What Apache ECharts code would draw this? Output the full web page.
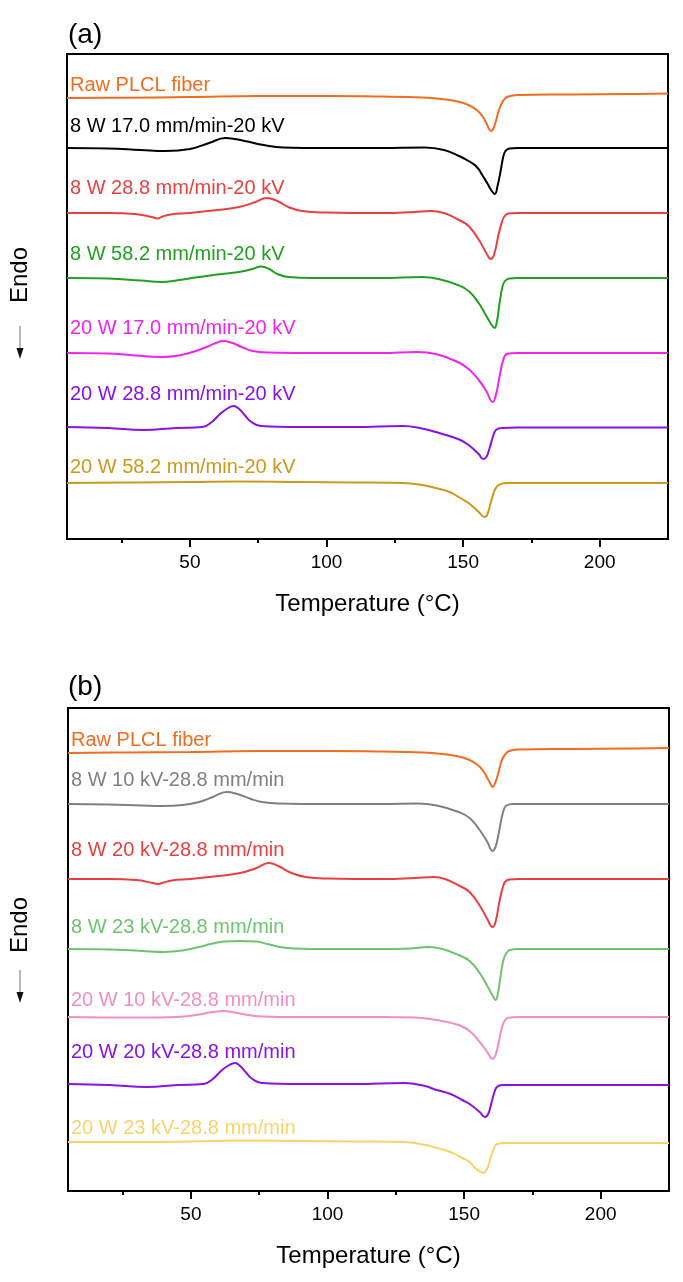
<!DOCTYPE html>
<html>
<head>
<meta charset="utf-8">
<script src="https://cdn.jsdelivr.net/npm/echarts@6.0.0/dist/echarts.min.js"></script>
<style>
  html, body { margin: 0; padding: 0; background: #fff; }
  #chart { width: 683px; height: 1282px; }
</style>
</head>
<body>
<div id="chart"></div>
<script>
// DSC traces, heat flow relative to each trace's own baseline (a.u., endo down)
const majorTicks = [50, 100, 150, 200]
const minorTicks = [25, 75, 125, 175]

const labelsA = ['Raw PLCL fiber', '8 W 17.0 mm/min-20 kV', '8 W 28.8 mm/min-20 kV', '8 W 58.2 mm/min-20 kV',
  '20 W 17.0 mm/min-20 kV', '20 W 28.8 mm/min-20 kV', '20 W 58.2 mm/min-20 kV']
const labelsB = ['Raw PLCL fiber', '8 W 10 kV-28.8 mm/min', '8 W 20 kV-28.8 mm/min', '8 W 23 kV-28.8 mm/min',
  '20 W 10 kV-28.8 mm/min', '20 W 20 kV-28.8 mm/min', '20 W 23 kV-28.8 mm/min']

// vertical offsets used to stack the traces
const offsetsA = [441, 391, 326, 261, 186, 112, 56]
const offsetsB = [438, 387, 312, 242, 174, 107, 49]

const rawA = [[5,0],[25,0.3],[50,1],[75,2],[100,2],[120,1.5],[135,0.5],[142,-1],[148,-3.5],[152,-7],[155,-12],[157,-18],[158.5,-25],[159.5,-31],[160.2,-33],[161,-31],[162,-23],[163,-13],[164,-6],[165,-1.5],[166.5,1.5],[170,3],[190,3.5],[210,4],[225,4.5]]
const w8s17 = [[5,0],[20,-0.5],[32,-2],[41,-3],[50,-1],[57,5],[63,10],[70,7],[77,3],[84,0.5],[100,0],[120,0],[136,0.5],[143,-2],[148.5,-8],[152,-13],[155,-19],[157,-27],[159,-36],[160.5,-43],[161.6,-46],[162.6,-38],[163.8,-22],[164.6,-10],[165.5,-3],[167,-0.5],[170,0],[225,0]]
const w8s28 = [[5,0],[20,0],[30,-1],[36,-4],[38,-5.5],[40,-3.5],[43,-1.5],[50,0],[60,3],[68,6],[74,11],[78,15],[82,12],[86,6],[91,2],[100,0.5],[120,0],[132,1],[138,2],[143,0],[148.5,-7],[152,-13],[155.8,-27],[158.5,-40],[160.1,-46],[161.3,-42],[163.1,-20],[164.2,-9],[165,-4],[166.5,-0.5],[170,0],[225,0]]
const w8s58 = [[5,0],[20,-0.5],[32,-2.5],[39.5,-4],[46,-2],[52,0.5],[60,3.5],[68,6],[73,9],[76,11.5],[79,9],[82,4],[86,1],[95,0],[120,0],[135,1],[141,-1],[148,-7],[152,-13],[155.7,-25],[158.5,-38],[160.5,-47],[161.5,-50],[162.4,-43],[163.3,-26],[164.3,-10],[165.3,-3],[167,-0.5],[170,0],[225,0]]
const w20s17 = [[5,0],[20,-0.5],[30,-2.5],[39.5,-4],[46,-2.5],[51,1],[56,6],[60,10.5],[62,12],[65,10.5],[69,6],[73,2],[78,0.5],[100,0],[120,0],[133,1],[140,-1],[148,-9],[152,-16],[155.7,-27],[158.5,-38],[160.8,-49],[162,-42],[163.6,-20],[164.6,-8],[166,-1],[170,0],[225,0]]
const w20s28 = [[5,0],[20,-1],[33,-3],[45,-1],[54.5,0],[58,5],[61,13],[64,19],[66,21],[68,18],[70,12],[72.5,5],[76,1],[90,0],[110,0],[128,1],[135,-1.5],[140,-5],[145,-9],[149,-13],[152,-18],[155.7,-27],[157.3,-32],[158.5,-30],[159.7,-21],[161,-9],[162,-3],[164,-1],[170,-0.5],[225,-0.5]]
const w20s58 = [[5,0],[30,0.5],[50,1],[68,1.5],[90,1],[110,0.5],[128,0],[135,-2],[140,-5],[145,-9],[149,-15],[152,-20],[155.7,-29],[157.8,-34],[158.8,-32],[160.4,-17],[161.6,-7],[163,-2],[166,0],[225,0]]

const rawB = [[5,0],[25,0.5],[50,1],[75,2],[100,2],[120,1.5],[135,0.5],[142,-1],[148,-3.5],[152,-7],[155,-12],[157,-18],[158.5,-25],[159.7,-31],[160.4,-34],[161.2,-31],[162.2,-23],[163.2,-13],[164,-6],[165,-1.5],[166.5,2],[170,3.5],[190,4],[210,4.5],[225,5]]
const w8kv10 = [[5,0],[20,-0.5],[32,-1.5],[39.5,-2],[47,-1],[53,2],[58,7],[63,12],[67,10],[72,5],[76,2],[82,0.5],[100,0],[120,0],[133,0.5],[140,-1.5],[148,-8],[152,-14],[155.7,-26],[158.5,-38],[160.4,-47],[161.5,-43],[162.6,-30],[163.6,-16],[164.5,-6],[165.5,-1.5],[168,0],[225,0]]
const w8kv20 = [[5,0],[20,0],[30,-1],[36,-4],[38,-5],[40,-3.5],[43,-1.5],[50,0],[60,3],[68,6],[74,11],[78.5,16],[82,13],[86,7],[92,2],[100,0.5],[120,0],[132,1],[139,2],[143,0],[148.5,-7],[152,-13],[155.8,-27],[158.5,-40],[160.4,-48],[161.5,-43],[163.1,-20],[164.2,-8],[165,-3],[166.5,-0.5],[170,0],[225,0]]
const w8kv23 = [[5,0],[20,-0.5],[32,-2],[40,-3],[47,-1.5],[53,2],[58,5.5],[62,7.5],[68,8],[74,7.5],[78,5],[82.5,2],[88,0.5],[100,0],[120,0],[130,0.5],[137,2],[142,0],[148,-6],[152,-12],[155.7,-24],[158.5,-37],[160.5,-47],[161.5,-51],[162.4,-44],[163.4,-26],[164.4,-11],[165.5,-4],[166.8,-1],[170,0],[225,0]]
const w20kv10 = [[5,0],[30,-0.5],[45,0],[53,2.5],[58,5],[62,6],[66,4.5],[71,2],[76,0.5],[90,0],[120,0],[132,-0.5],[140,-3],[148,-8],[152,-14],[155.7,-25],[158.5,-35],[160.4,-42],[161.5,-38],[162.6,-26],[163.6,-13],[164.6,-5],[166,-1],[170,0],[225,0]]
const w20kv20 = [[5,0],[20,-1],[34,-3],[45,-1],[54.5,0],[58,5],[61,13],[64,19],[66.2,21],[68,18],[70,12],[72.5,5],[76,1],[90,0],[110,0],[128,1],[135,-1.5],[140,-6],[145,-10],[149.3,-16],[152,-20],[155.7,-28],[157.6,-33],[158.8,-30],[160,-19],[161,-9],[162,-3],[164,-1],[170,-1],[225,-1]]
const w20kv23 = [[5,0],[30,0],[50,0.5],[68,1.5],[90,1],[110,0.5],[128,0],[135,-2.5],[140,-6],[145,-10],[149.3,-16],[152,-20],[154,-26],[155.8,-29.5],[157,-31],[158.2,-28],[159.7,-16],[161,-6],[162,-2],[165,-1],[225,-1]]

const tracesA = [rawA, w8s17, w8s28, w8s58, w20s17, w20s28, w20s58]
const tracesB = [rawB, w8kv10, w8kv20, w8kv23, w20kv10, w20kv20, w20kv23]

const colorsA = ['#F26D1F', '#000000', '#E8403F', '#21A021', '#F024F0', '#8A12E6', '#CC9A1B']
const colorsB = ['#F26D1F', '#808080', '#E8403F', '#6EC46E', '#F28EC2', '#8A12E6', '#F7D46A']

// how far (px) each label sits above its trace
const labelGapA = [13, 22, 25, 24, 25, 33, 16]
const labelGapB = [13, 24, 29, 22, 17, 32, 14]

const FONT = 'Liberation Sans, Arial, sans-serif'
const chart = echarts.init(document.getElementById('chart'))

const grids = [
  { left: 67, right: 15, top: 54, height: 485 },
  { left: 68, right: 14, top: 708, height: 483 }
]

const makeX = (gi) => ({
  gridIndex: gi, type: 'value', min: 5, max: 225, position: 'bottom',
  name: 'Temperature (°C)', nameLocation: 'middle', nameGap: 65,
  nameTextStyle: { fontSize: 24, color: '#000', fontFamily: FONT, verticalAlign: 'middle' },
  axisLine: { show: true, onZero: false, lineStyle: { color: '#000', width: 2 } },
  axisTick: { show: true, length: 8, customValues: majorTicks, lineStyle: { color: '#000', width: 2 } },
  axisLabel: { customValues: majorTicks, fontSize: 19, color: '#000', fontFamily: FONT, margin: 14 },
  splitLine: { show: false }
})
const makeMinorX = (gi) => ({
  gridIndex: gi, type: 'value', min: 5, max: 225, position: 'bottom',
  axisLine: { show: false },
  axisTick: { show: true, length: 4, customValues: minorTicks, lineStyle: { color: '#000', width: 2 } },
  axisLabel: { show: false },
  splitLine: { show: false }
})
const makeY = (gi, max) => ({
  gridIndex: gi, type: 'value', min: 0, max: max,
  axisLine: { show: true, lineStyle: { color: '#000', width: 2 } },
  axisTick: { show: false }, axisLabel: { show: false }, splitLine: { show: false }
})

const series = []
const addTraces = (traces, offsets, colors, gi) => {
  traces.forEach((pts, i) => {
    series.push({
      type: 'line', xAxisIndex: gi * 2, yAxisIndex: gi,
      data: pts.map(p => [p[0], offsets[i] + p[1]]),
      showSymbol: false, smooth: 0.45,
      lineStyle: { color: colors[i], width: 2 },
      silent: true, animation: false
    })
  })
}
addTraces(tracesA, offsetsA, colorsA, 0)
addTraces(tracesB, offsetsB, colorsB, 1)

chart.setOption({
  animation: false,
  grid: grids.map(g => Object.assign({ show: true, borderColor: '#000', borderWidth: 2 }, g)),
  xAxis: [makeX(0), makeMinorX(0), makeX(1), makeMinorX(1)],
  yAxis: [makeY(0, 485), makeY(1, 483)],
  series: series
})

// panel letters, Endo arrows and trace labels
const graphics = []
const panelText = (txt, y) => graphics.push({
  type: 'text', x: 68, y: y,
  style: { text: txt, fontSize: 28, fill: '#000', fontFamily: FONT, textVerticalAlign: 'middle' }
})
panelText('(a)', 35)
panelText('(b)', 687)

const endo = (cy, ay) => {
  graphics.push({
    type: 'text', x: 20, y: cy, rotation: Math.PI / 2,
    style: { text: 'Endo', fontSize: 24, fill: '#000', fontFamily: FONT, textAlign: 'center', textVerticalAlign: 'middle' }
  })
  graphics.push({
    type: 'line', shape: { x1: 20, y1: ay, x2: 20, y2: ay + 25 },
    style: { stroke: '#888', lineWidth: 1.2 }
  })
  graphics.push({
    type: 'polygon', shape: { points: [[16.5, ay + 22], [23.5, ay + 22], [20, ay + 33]] },
    style: { fill: '#111' }
  })
}
endo(275, 326)
endo(925, 970)

const addLabels = (labels, offsets, colors, gaps, gi) => {
  labels.forEach((txt, i) => {
    const p = chart.convertToPixel({ xAxisIndex: gi * 2, yAxisIndex: gi }, [5, offsets[i]])
    graphics.push({
      type: 'text', x: p[0] + 3, y: p[1] - gaps[i],
      style: { text: txt, fontSize: 20, fill: colors[i], fontFamily: FONT, textVerticalAlign: 'middle' }
    })
  })
}
addLabels(labelsA, offsetsA, colorsA, labelGapA, 0)
addLabels(labelsB, offsetsB, colorsB, labelGapB, 1)

chart.setOption({ graphic: graphics })
window.addEventListener('resize', () => chart.resize())
</script>
</body>
</html>
